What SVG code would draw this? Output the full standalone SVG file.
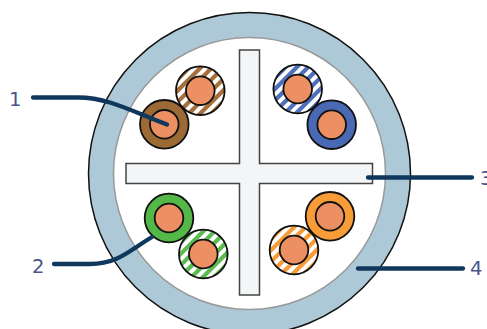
<svg xmlns="http://www.w3.org/2000/svg" width="487" height="329" viewBox="0 0 487 329">
<style>
.lbl{font-family:"DejaVu Sans",sans-serif;font-size:19.5px;fill:#4a5488}
.lead{fill:none;stroke:#10375c;stroke-width:4.300;stroke-linecap:round}
.w{stroke:#111;stroke-width:1.800}
.ring{fill:none;stroke:#111;stroke-width:1.800}
.base{fill:#fff}
.core{fill:#ec8f62;stroke:#111;stroke-width:1.800}
.st{fill:none;stroke-width:4.200}
</style>
<defs>
<clipPath id="disc"><circle r="24"/></clipPath>
<g id="stripes" clip-path="url(#disc)"><path class="st" stroke="currentColor" d="M-64 30L-4 -30M-52.700 30L7.300 -30M-41.400 30L18.600 -30M-30 30L30 -30M-18.600 30L41.400 -30M-7.300 30L52.700 -30M4 30L64 -30"/></g>
<g id="striped"><circle class="base" r="24.300"/><use href="#stripes"/><circle class="ring" r="24.300"/><circle class="core" r="14.300"/></g>
</defs>
<g id="jacket">
<circle cx="249.500" cy="173.500" r="161" fill="#adc8d6" stroke="#111" stroke-width="1.500"/>
<circle cx="249.500" cy="173.500" r="136" fill="#fff" stroke="#999" stroke-width="1.500"/>
</g>
<g id="spline">
<path d="M239.500 50H259.500V163.500H372.500V183.500H259.500V295H239.500V183.500H126V163.500H239.500Z" fill="#f3f5f7" stroke="#444" stroke-width="1.500"/>
</g>
<g id="pair-brown-stripe" color="#a5703a"><use href="#striped" x="200.300" y="90.700"/></g>
<g id="pair-brown"><circle class="w" cx="164.300" cy="124.300" r="24.300" fill="#9c6a35"/><circle class="core" cx="164.300" cy="124.300" r="14.300"/></g>
<g id="pair-blue-stripe" color="#4e6fbb"><use href="#striped" x="297.700" y="89"/></g>
<g id="pair-blue"><circle class="w" cx="331.700" cy="124.700" r="24.300" fill="#4a69b5"/><circle class="core" cx="331.700" cy="124.700" r="14.300"/></g>
<g id="pair-green"><circle class="w" cx="169" cy="218" r="24.300" fill="#53b848"/><circle class="core" cx="169" cy="218" r="14.300"/></g>
<g id="pair-green-stripe" color="#5cbb50"><use href="#striped" x="203.300" y="254"/></g>
<g id="pair-orange"><circle class="w" cx="330" cy="216.300" r="24.300" fill="#f89c38"/><circle class="core" cx="330" cy="216.300" r="14.300"/></g>
<g id="pair-orange-stripe" color="#f89c38"><use href="#striped" x="294" y="250"/></g>
<g id="connectors">
<path class="lead" d="M33 97.500H78C110 97.500 135 113 167 124.500"/>
<path class="lead" d="M54 264H90C118 264 130 250 152 237"/>
<path class="lead" d="M368 177.500H472"/>
<path class="lead" d="M358 268.500H463"/>
</g>
<g id="labels">
<text class="lbl" x="9" y="105.500">1</text>
<text class="lbl" x="32" y="272.500">2</text>
<text class="lbl" x="480" y="185">3</text>
<text class="lbl" x="470" y="275">4</text>
</g>
</svg>
